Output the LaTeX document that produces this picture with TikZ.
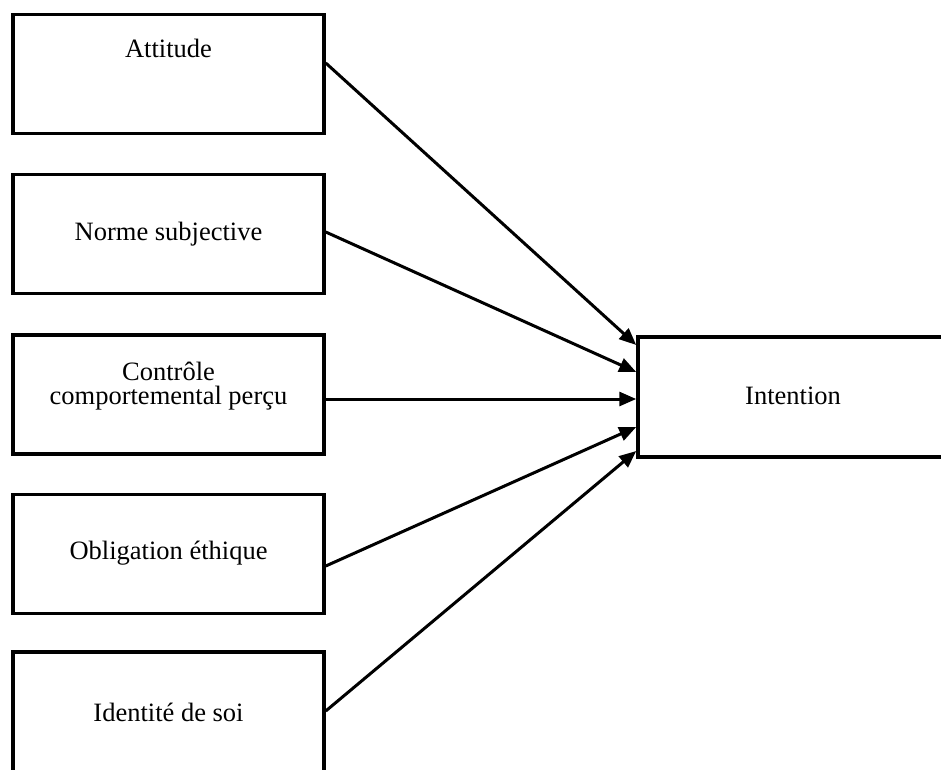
\documentclass[tikz,border=0pt]{standalone}
\usepackage{fontspec}
\setmainfont{Liberation Serif}
\usetikzlibrary{arrows.meta}

\begin{document}
\begin{tikzpicture}[x=1pt, y=-1pt,
  box/.style={draw=black, line width=3.5pt, rectangle, inner sep=0pt,
              minimum width=311pt, minimum height=119pt},
  lbl/.style={font=\fontsize{26.5}{24.5}\selectfont, align=center, inner sep=0pt},
  link/.style={line width=3pt, -{Triangle[length=17pt,width=14pt]}}]

  \useasboundingbox (0,0) rectangle (941,769);

  % predictor boxes
  \node[box] (b1) at (168.5,74)   {};
  \node[box] (b2) at (168.5,234)  {};
  \node[box] (b3) at (168.5,394.5){};
  \node[box] (b4) at (168.5,554)  {};
  \node[box, minimum height=124pt] (b5) at (168.5,714){};

  % outcome box
  \node[box, minimum width=330pt, minimum height=120pt] (out) at (803,397) {};

  % texts
  \node[lbl] (t1) at (168.5,48)  {Attitude};
  \node[lbl] (t2) at (168.5,234) {Norme subjective};
  \node[lbl] (t3) at (168.5,386) {Contrôle\\comportemental perçu};
  \node[lbl] (t4) at (168.5,553) {Obligation éthique};
  \node[lbl] (t5) at (168.5,712) {Identité de soi};
  \node[lbl] (t6) at (793,396)   {Intention};

  % arrows into the outcome box
  \draw[link] ([yshift=11pt]b1.east)   -- ([yshift=52pt]out.west);
  \draw[link] ([yshift=2pt]b2.east)    -- ([yshift=25pt]out.west);
  \draw[link] ([yshift=-4.5pt]b3.east) -- ([yshift=-2pt]out.west);
  \draw[link] ([yshift=-12pt]b4.east)  -- ([yshift=-30pt]out.west);
  \draw[link] ([yshift=3pt]b5.east)    -- ([yshift=-54pt]out.west);
\end{tikzpicture}
\end{document}
